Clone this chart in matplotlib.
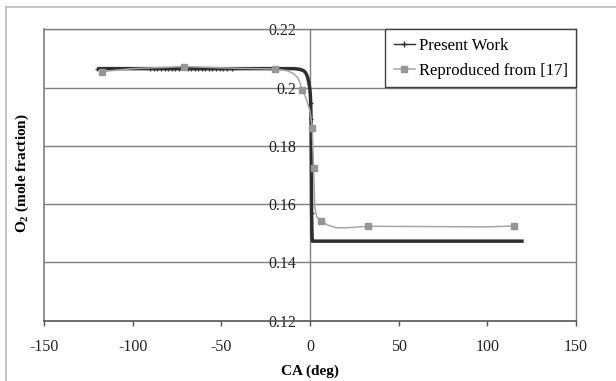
import matplotlib
matplotlib.use("Agg")
import matplotlib.pyplot as plt
from matplotlib.lines import Line2D

plt.rcParams['font.family'] = ['Liberation Serif', 'DejaVu Serif']
plt.rcParams['mathtext.fontset'] = 'custom'
plt.rcParams['mathtext.rm'] = 'Liberation Serif:bold'
plt.rcParams['mathtext.it'] = 'Liberation Serif:bold'
plt.rcParams['mathtext.bf'] = 'Liberation Serif:bold'
plt.rcParams['axes.unicode_minus'] = False

# Present Work (crank angle vs O2 mole fraction)
ca_pw = [-120, -100, -90, -70, -50, -30, -15, -9, -6, -4, -3, -2, -1.2, -0.6,
         -0.2, 0.2, 0.4, 0.6, 0.8, 0.9, 1.1, 1.3, 2, 10, 40, 80, 120.5]
o2_pw = [0.2065, 0.2065, 0.2065, 0.2065, 0.2065, 0.2065, 0.2065, 0.2065, 0.2063,
         0.2059, 0.2055, 0.2046, 0.2032, 0.2015, 0.2000, 0.1975, 0.1946, 0.1891,
         0.1700, 0.1570, 0.1500, 0.1473, 0.1473, 0.1473, 0.1473, 0.1473, 0.1473]
# marker positions of the Present Work series
ca_pw_mk = [-120, -90, -88, -86, -84, -82, -80, -78, -76, -74, -69, -67, -65, -63,
            -61, -59, -57, -55, -53, -51, -49, -47, -44, 0.4, 0.6, 0.9]
o2_pw_mk = [0.2065, 0.2065, 0.2065, 0.2065, 0.2065, 0.2065, 0.2065, 0.2065,
            0.2065, 0.2065, 0.2065, 0.2065, 0.2065, 0.2065, 0.2065, 0.2065,
            0.2065, 0.2065, 0.2065, 0.2065, 0.2065, 0.2065, 0.2065,
            0.1946, 0.1891, 0.1570]

# Reproduced from [17]
ca_rep_line = [-117.2, -100, -71.1, -40, -19.5, -13, -9, -6.5, -4.4, -2, 0, 1.3,
               2.0, 2.7, 3.8, 6.2, 10, 15, 21, 32.8, 100, 114.8]
o2_rep_line = [0.2055, 0.2065, 0.2072, 0.2066, 0.2064, 0.2058, 0.2047, 0.2030,
               0.1992, 0.1960, 0.1920, 0.1860, 0.1723, 0.1590, 0.1556, 0.1542,
               0.1528, 0.1519, 0.1519, 0.1524, 0.1522, 0.1525]
ca_rep = [-117.2, -71.1, -19.5, -4.4, 1.3, 2.0, 6.2, 32.8, 114.8]
o2_rep = [0.2055, 0.2072, 0.2064, 0.1992, 0.1860, 0.1723, 0.1542, 0.1524, 0.1525]

xticks = [-150, -100, -50, 0, 50, 100, 150]
yticks = [0.12, 0.14, 0.16, 0.18, 0.2, 0.22]
ylabels = ['0.12', '0.14', '0.16', '0.18', '0.2', '0.22']

fig = plt.figure(figsize=(6.16, 3.81), dpi=100)
ax = fig.add_axes([44/616, 1-320.7/381, 532/616, 291.4/381])

grey = '#7f7f7f'
for y in yticks[1:]:
    ax.axhline(y, color=grey, lw=1.0, zorder=1)

ax.plot(ca_pw, o2_pw, color='#2e2e2e', lw=2.5, zorder=3, solid_capstyle='butt')
ax.plot(ca_pw_mk, o2_pw_mk, ls='none', marker='+', ms=3.5, mew=0.9,
        color='#2e2e2e', zorder=3)
ax.plot(ca_rep_line, o2_rep_line, color='#a6a6a6', lw=1.1, zorder=4)
ax.plot(ca_rep, o2_rep, ls='none', marker='s', ms=4.5, color='#969696',
        mec='#969696', zorder=5)

ax.set_xlim(-150, 150)
ax.set_ylim(0.12, 0.22)
ax.set_xticks(xticks)
ax.set_xticklabels([str(t) for t in xticks])
ax.set_yticks(yticks)
ax.set_yticklabels(ylabels)

ax.spines['left'].set_position(('data', 0))
for s in ['left', 'top', 'right']:
    ax.spines[s].set_color(grey)
    ax.spines[s].set_linewidth(1.0)
ax.spines['bottom'].set_color('#555555')
ax.spines['bottom'].set_linewidth(1.2)
ax.plot([0, 0], [0, 1], transform=ax.transAxes, color=grey, lw=1.2,
        clip_on=False, zorder=2)

ax.tick_params(axis='y', length=0, pad=10, labelsize=11.5, labelcolor='#222222')
ax.tick_params(axis='x', length=3.5, width=1.0, color='#555555', pad=9.5,
               labelsize=11.5, labelcolor='#222222')

ax.set_xlabel('CA (deg)', fontsize=11, fontweight='bold', labelpad=7)
ax.set_ylabel('O$_2$ (mole fraction)', fontsize=11, fontweight='bold')
ax.yaxis.set_label_coords((31 - 44) / 532, (320.7 - 173) / 291.4)

h1 = Line2D([], [], color='#2e2e2e', lw=1.0, marker='+', ms=5, mew=1.0)
h2 = Line2D([], [], color='#a6a6a6', lw=1.1, marker='s', ms=4.5,
            mfc='#969696', mec='#969696')
leg = ax.legend([h1, h2], ['Present Work', 'Reproduced from [17]'],
                loc='upper right', bbox_to_anchor=(1, 1), borderaxespad=0,
                fancybox=False, framealpha=1, edgecolor='#404040',
                fontsize=12, handlelength=1.3, handletextpad=0.2,
                borderpad=0.5, labelspacing=0.55)
leg.get_frame().set_linewidth(1.0)
leg.set_zorder(10)

# light outer frame of the chart area
fig.add_artist(Line2D([5.5/616, 1], [1-7.3/381, 1-7.3/381], color='#c0c0c0',
                      lw=1.3, transform=fig.transFigure))
fig.add_artist(Line2D([5.5/616, 5.5/616], [0, 1-7.3/381], color='#c0c0c0',
                      lw=1.3, transform=fig.transFigure))

fig.savefig('out.png', dpi=100)
